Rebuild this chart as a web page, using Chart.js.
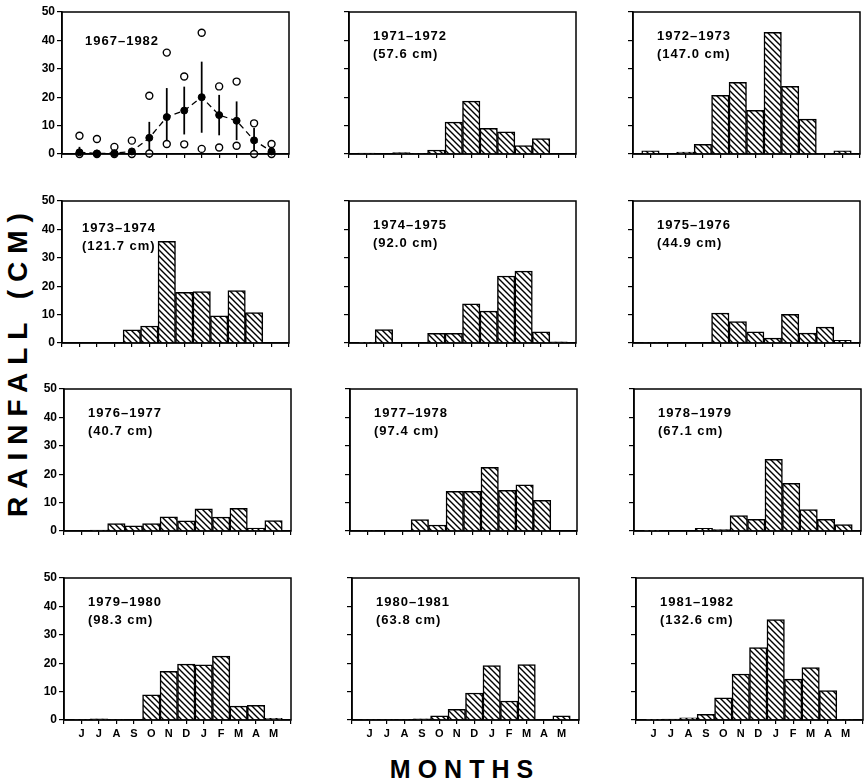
<!DOCTYPE html>
<html>
<head>
<meta charset="utf-8">
<script src="https://cdn.jsdelivr.net/npm/chart.js@4.4.1/dist/chart.umd.min.js"></script>
<style>
  html, body { margin:0; padding:0; background:#fff; }
  body { width:866px; height:784px; position:relative; overflow:hidden; font-family:"Liberation Sans", Arial, sans-serif; }
  .panel { position:absolute; }
  .panel canvas { display:block; }
  .lbl { position:absolute; font-weight:bold; font-size:13px; letter-spacing:1px; line-height:18px; color:#000; white-space:pre; }
  #ytitle { position:absolute; left:18px; top:361px; font-weight:bold; font-size:28px; letter-spacing:8px; color:#000; white-space:nowrap; transform:translate(-50%,-50%) rotate(-90deg); }
  #xtitle { position:absolute; left:465px; top:769px; font-weight:bold; font-size:25px; letter-spacing:7px; color:#000; white-space:nowrap; transform:translate(-50%,-50%); }
</style>
</head>
<body>
<div id="ytitle">RAINFALL (CM)</div>
<div id="xtitle">MONTHS</div>
<script>
// ---------- DATA ----------
const MONTHS = ['J','J','A','S','O','N','D','J','F','M','A','M'];
const Y_MIN = 0, Y_MAX = 50, Y_STEP = 10;

// 1967–1982 summary panel
const SUMMARY_LABEL = '1967–1982';
const MEAN_1967_1982 = [0.6, 0.2, 0.3, 0.9, 5.7, 13.0, 15.3, 20.0, 13.7, 11.7, 4.8, 0.9];
const SD_1967_1982   = [1.8, 0.3, 0.5, 1.0, 5.5, 10.1, 8.3, 12.4, 7.0, 6.7, 4.2, 0.8];
const MAX_1967_1982  = [6.4, 5.3, 2.5, 4.7, 20.5, 35.7, 27.3, 42.7, 23.8, 25.5, 10.8, 3.5];
const MIN_1967_1982  = [0, 0, 0, 0, 0.2, 3.5, 3.4, 1.8, 2.3, 2.9, 0, 0];

// seasonal panels
const SEASONS = ['1971–1972','1972–1973','1973–1974','1974–1975','1975–1976','1976–1977',
                 '1977–1978','1978–1979','1979–1980','1980–1981','1981–1982'];
const SEASON_TOTALS = ['57.6','147.0','121.7','92.0','44.9','40.7','97.4','67.1','98.3','63.8','132.6'];

const R_1971_1972 = [0.3, 0, 0.5, 0.2, 1.4, 11.2, 18.6, 9.0, 7.8, 3.0, 5.4, 0];
const R_1972_1973 = [1.1, 0, 0.7, 3.4, 20.7, 25.2, 15.4, 42.8, 23.8, 12.3, 0.2, 1.1];
const R_1973_1974 = [0, 0, 0, 4.6, 6.0, 35.8, 17.8, 18.1, 9.6, 18.5, 10.7, 0];
const R_1974_1975 = [0.1, 4.7, 0, 0, 3.4, 3.4, 13.8, 11.2, 23.6, 25.3, 3.9, 0.4];
const R_1975_1976 = [0.2, 0, 0, 0, 10.5, 7.5, 3.9, 1.7, 10.1, 3.5, 5.6, 0.9];
const R_1976_1977 = [0, 0.3, 2.6, 1.8, 2.6, 5.0, 3.6, 7.8, 4.9, 8.0, 1.0, 3.7];
const R_1977_1978 = [0.2, 0, 0, 4.0, 2.1, 14.0, 14.0, 22.4, 14.3, 16.3, 10.8, 0];
const R_1978_1979 = [0.1, 0, 0, 0.9, 0.5, 5.4, 4.1, 25.2, 16.8, 7.5, 4.1, 2.3];
const R_1979_1980 = [0.2, 0.4, 0.2, 0, 8.9, 17.1, 19.7, 19.4, 22.5, 4.9, 5.2, 0.6];
const R_1980_1981 = [0.2, 0.2, 0.2, 0.4, 1.5, 3.8, 9.5, 19.2, 6.7, 19.5, 0, 1.5];
const R_1981_1982 = [0.1, 0.3, 0.8, 2.0, 7.8, 16.2, 25.5, 35.4, 14.4, 18.5, 10.4, 0.2];

const SEASON_VALUES = [R_1971_1972, R_1972_1973, R_1973_1974, R_1974_1975, R_1975_1976, R_1976_1977,
                       R_1977_1978, R_1978_1979, R_1979_1980, R_1980_1981, R_1981_1982];

// ---------- LAYOUT ----------
const PLOT_W = 227, PLOT_H = 142;
const AX_W = 40, AX_H = 26, PAD_T = 10, PAD_R = 8;
const ROW_TOP = [12, 201, 389, 578];
const COL_LEFT = [[62, 349, 633], [62, 349, 633], [64, 350, 634], [64, 352, 636]];
const FONT = '"Liberation Sans", Arial, sans-serif';

function hatch() {
  const s = 6;
  const c = document.createElement('canvas');
  c.width = s; c.height = s;
  const g = c.getContext('2d');
  g.fillStyle = '#fff'; g.fillRect(0, 0, s, s);
  g.strokeStyle = '#000'; g.lineWidth = 1.4; g.lineCap = 'square';
  g.beginPath();
  g.moveTo(-1, -1); g.lineTo(s + 1, s + 1);
  g.moveTo(-1, s - 1); g.lineTo(1, s + 1);
  g.moveTo(s - 1, -1); g.lineTo(s + 1, 1);
  g.stroke();
  return g.createPattern(c, 'repeat');
}
const HATCH = hatch();

const framePlugin = {
  id: 'frame',
  afterDraw(chart) {
    const { ctx, chartArea: a } = chart;
    ctx.save();
    ctx.strokeStyle = '#000'; ctx.lineWidth = 1.5;
    ctx.strokeRect(a.left, a.top, a.right - a.left, a.bottom - a.top);
    ctx.restore();
  }
};

function pts(arr) { return arr.map((v, i) => ({ x: i + 1, y: v })); }

function makePanel(row, col, datasets, labelText, labelDx, labelDy) {
  const L = COL_LEFT[row][col], T = ROW_TOP[row];
  const W = AX_W + PLOT_W + PAD_R, H = PAD_T + PLOT_H + AX_H;
  const div = document.createElement('div');
  div.className = 'panel';
  div.style.left = (L - AX_W) + 'px';
  div.style.top = (T - PAD_T) + 'px';
  div.style.width = W + 'px'; div.style.height = H + 'px';
  const cv = document.createElement('canvas');
  cv.width = W; cv.height = H;
  div.appendChild(cv);
  document.body.appendChild(div);

  const showY = col === 0, showX = row === 3;
  new Chart(cv, {
    type: 'bar',
    data: { datasets },
    options: {
      responsive: false, animation: false, devicePixelRatio: 1,
      layout: { padding: { left: 0, top: PAD_T, right: PAD_R, bottom: 0 } },
      plugins: { legend: { display: false }, tooltip: { enabled: false } },
      scales: {
        x: {
          type: 'linear', min: 0, max: MONTHS.length + 1, offset: false,
          ticks: { stepSize: 1, autoSkip: false, display: showX, maxRotation: 0, padding: 3,
                   color: '#000', font: { family: FONT, size: 11, weight: 'bold' },
                   callback: v => MONTHS[v - 1] || '' },
          grid: { offset: false, drawOnChartArea: false, drawTicks: true, tickLength: 4, color: '#000', lineWidth: 1.2 },
          border: { display: true, color: '#000', width: 1.5 },
          afterFit: s => { s.height = AX_H; }
        },
        y: {
          type: 'linear', min: Y_MIN, max: Y_MAX,
          ticks: { stepSize: Y_STEP, display: showY, padding: 2, color: '#000',
                   font: { family: FONT, size: 12, weight: 'bold' } },
          grid: { drawOnChartArea: false, drawTicks: true, tickLength: 5, color: '#000', lineWidth: 1.2 },
          border: { display: true, color: '#000', width: 1.5 },
          afterFit: s => { s.width = AX_W; }
        }
      }
    },
    plugins: [framePlugin]
  });

  const lab = document.createElement('div');
  lab.className = 'lbl';
  lab.textContent = labelText;
  lab.style.left = (L + labelDx) + 'px';
  lab.style.top = (T + labelDy - 9) + 'px';
  document.body.appendChild(lab);
}

// summary panel
makePanel(0, 0, [
  { type: 'line', data: pts(MEAN_1967_1982), borderColor: '#000', borderWidth: 1.3, borderDash: [6, 4],
    pointRadius: 3.5, pointBackgroundColor: '#000', pointBorderColor: '#000', pointBorderWidth: 1,
    clip: false, order: 0 },
  { type: 'line', data: pts(MAX_1967_1982), showLine: false, pointRadius: 3.5,
    pointBackgroundColor: '#fff', pointBorderColor: '#000', pointBorderWidth: 1.4, clip: false, order: 1 },
  { type: 'line', data: pts(MIN_1967_1982), showLine: false, pointRadius: 3.5,
    pointBackgroundColor: '#fff', pointBorderColor: '#000', pointBorderWidth: 1.4, clip: false, order: 2 },
  { type: 'bar', data: MEAN_1967_1982.map((m, i) => ({ x: i + 1, y: [Math.max(0, m - SD_1967_1982[i]), m + SD_1967_1982[i]] })),
    barThickness: 1.1, backgroundColor: '#000', borderWidth: 0, order: 3 }
], SUMMARY_LABEL, 23, 29);

// seasonal panels
SEASONS.forEach((season, k) => {
  const idx = k + 1;
  const row = Math.floor(idx / 3), col = idx % 3;
  const dx = season === '1973–1974' ? 20 : 24;
  const dy = season === '1973–1974' ? 27 : 24;
  makePanel(row, col, [
    { type: 'bar', data: pts(SEASON_VALUES[k]), backgroundColor: HATCH, borderColor: '#000', borderWidth: 1.5,
      barPercentage: 1, categoryPercentage: 1 }
  ], season + '\n(' + SEASON_TOTALS[k] + ' cm)', dx, dy);
});
</script>
</body>
</html>
